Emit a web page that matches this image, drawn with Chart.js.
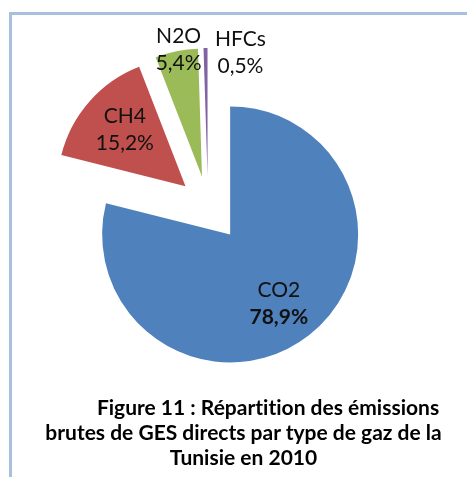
<!DOCTYPE html>
<html>
<head>
<meta charset="utf-8">
<script src="https://cdn.jsdelivr.net/npm/chart.js@4.4.1/dist/chart.umd.min.js"></script>
<style>
  html, body { margin: 0; padding: 0; background: #fff; }
  body { width: 467px; height: 477px; position: relative; overflow: hidden; font-family: Lato, "Open Sans", sans-serif; font-variant-ligatures: none; }
  #frame { position: absolute; left: 9px; top: 12px; right: -10px; bottom: -10px; border-top: 3px solid #a8c0de; border-left: 3px solid #a8c0de; }
  #wrap { position: absolute; left: 0; top: 0; width: 467px; height: 477px; }
  #caption { position: absolute; left: 24px; width: 439px; top: 394px; text-align: center; font-weight: 700; font-size: 21px; line-height: 25px; color: #000; white-space: nowrap; }
  #caption .first { padding-left: 49px; }
</style>
</head>
<body>
<div id="frame"></div>
<div id="wrap"><canvas id="gasChart" width="467" height="477"></canvas></div>
<div id="caption">
  <div class="first">Figure 11 : Répartition des émissions</div>
  <div>brutes de GES directs par type de gaz de la</div>
  <div>Tunisie en 2010</div>
</div>
<script>
const gases = ['CO2', 'CH4', 'N2O', 'HFCs'];
const shares = [78.9, 15.2, 5.4, 0.5];
const gasColors = ['#4f81bd', '#c0504d', '#9bbb59', '#8064a2'];

// how far each slice is pulled out of the pie (px)
const explode = [36, 30, 30, 30];

const formatShare = (v) => v.toFixed(1).replace('.', ',') + '%';

// push slices outward along their middle angle
const explodeSlices = {
  id: 'explodeSlices',
  afterDatasetUpdate(chart, args) {
    args.meta.data.forEach((arc, i) => {
      const mid = (arc.startAngle + arc.endAngle) / 2;
      arc.x += Math.cos(mid) * explode[i];
      arc.y += Math.sin(mid) * explode[i];
    });
  },
};

const sliceLabels = {
  id: 'sliceLabels',
  afterDatasetsDraw(chart, args, opts) {
    const { ctx } = chart;
    const meta = chart.getDatasetMeta(0);
    meta.data.forEach((arc, i) => {
      const place = opts.places[i];
      const angle = (arc.startAngle + arc.endAngle) / 2 + place.shift * Math.PI / 180;
      const dist = arc.outerRadius * place.radius;
      const x = arc.x + Math.cos(angle) * dist;
      const y = arc.y + Math.sin(angle) * dist;
      ctx.save();
      ctx.fillStyle = '#111';
      ctx.textAlign = 'center';
      ctx.textBaseline = 'middle';
      ctx.font = '400 ' + opts.size + 'px Lato';
      ctx.fillText(chart.data.labels[i], x, y - 13);
      ctx.font = (place.bold ? '700 ' : '400 ') + opts.size + 'px Lato';
      ctx.fillText(formatShare(chart.data.datasets[0].data[i]), x, y + 14);
      ctx.restore();
    });
  },
};

new Chart(document.getElementById('gasChart'), {
  type: 'pie',
  data: {
    labels: gases,
    datasets: [
      {
        data: shares,
        backgroundColor: gasColors,
        borderWidth: 0,
        hoverOffset: 0,
      },
    ],
  },
  options: {
    responsive: false,
    animation: false,
    layout: {
      padding: { left: 80, top: 78, right: 131, bottom: 143 },
    },
    plugins: {
      legend: { display: false },
      tooltip: { enabled: false },
      sliceLabels: {
        size: 21,
        places: [
          { shift: 2.8, radius: 0.66, bold: true },
          { shift: 1.8, radius: 0.65 },
          { shift: 1.1, radius: 1.01 },
          { shift: 15.8, radius: 1.0 },
        ],
      },
    },
    events: [],
  },
  plugins: [explodeSlices, sliceLabels],
});
</script>
</body>
</html>
